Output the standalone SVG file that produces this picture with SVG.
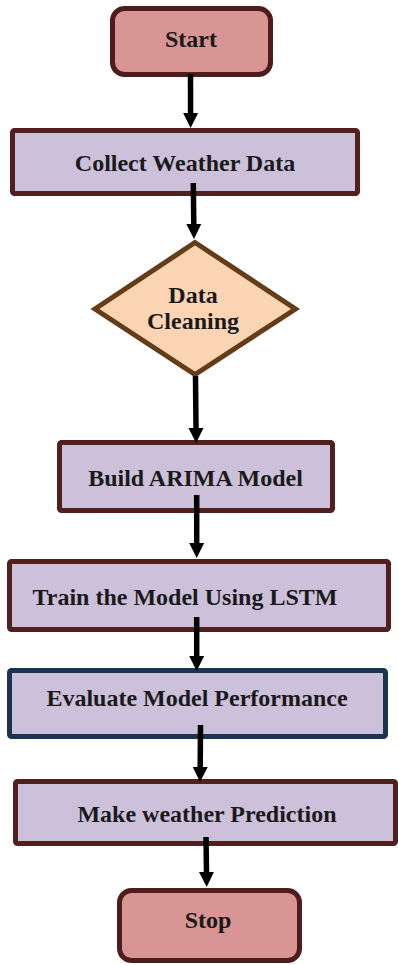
<svg xmlns="http://www.w3.org/2000/svg" width="398" height="965" viewBox="0 0 398 965">
<defs>
<style>
.term{fill:#d99594;stroke:#4f1c1c;stroke-width:5}
.proc{fill:#ccc0da;stroke:#521f1f;stroke-width:5}
.eval{fill:#ccc0da;stroke:#1b3452;stroke-width:5}
.dec{fill:#fbd4b4;stroke:#643c17;stroke-width:5;stroke-linejoin:miter}
.lbl{font-family:"Liberation Serif","Times New Roman",serif;font-weight:bold;font-size:24px;fill:#1a1a1a;text-anchor:middle}
.arr{stroke:#000;stroke-width:5.5;fill:none;marker-end:url(#ah)}
</style>
<marker id="ah" markerUnits="userSpaceOnUse" markerWidth="16" markerHeight="16" refX="0" refY="8" orient="auto" viewBox="0 0 16 16">
<path d="M0,0.5 L15,8 L0,15.5 z" fill="#000"/>
</marker>
</defs>
<rect width="398" height="965" fill="#fff"/>
<g id="start">
<rect class="term" x="112.5" y="8.5" width="158" height="66" rx="12"/>
<text class="lbl" x="191" y="47">Start</text>
</g>
<g id="collect">
<rect class="proc" x="12.5" y="130.5" width="345" height="63" rx="2"/>
<text class="lbl" x="185" y="171">Collect Weather Data</text>
</g>
<g id="clean">
<polygon class="dec" points="195,242.5 295.5,309 195,374.5 95,309"/>
<text class="lbl" x="193" y="302.5">Data</text>
<text class="lbl" x="193" y="329">Cleaning</text>
</g>
<g id="arima">
<rect class="proc" x="59.5" y="442.5" width="273" height="68" rx="2"/>
<text class="lbl" x="195.5" y="486">Build ARIMA Model</text>
</g>
<g id="train">
<rect class="proc" x="9.5" y="561.5" width="379" height="68" rx="2"/>
<text class="lbl" x="185" y="605">Train the Model Using LSTM</text>
</g>
<g id="evaluate">
<rect class="eval" x="9.5" y="670.5" width="376" height="66" rx="2"/>
<text class="lbl" x="197" y="706">Evaluate Model Performance</text>
</g>
<g id="predict">
<rect class="proc" x="15.5" y="781.5" width="380" height="62" rx="2"/>
<text class="lbl" x="207" y="822">Make weather Prediction</text>
</g>
<g id="stop">
<rect class="term" x="119.5" y="890.5" width="180" height="70" rx="12"/>
<text class="lbl" x="208" y="928">Stop</text>
</g>
<g id="connectors">
<path class="arr" d="M190.5,74 L190.6,113"/>
<path class="arr" d="M193.3,183 L193.8,224"/>
<path class="arr" d="M195.5,376 L196,428"/>
<path class="arr" d="M196.7,495 L196.7,543"/>
<path class="arr" d="M196.7,617 L196.7,656"/>
<path class="arr" d="M200.5,725 L200.2,767"/>
<path class="arr" d="M206,837 L206.5,872"/>
</g>
</svg>
